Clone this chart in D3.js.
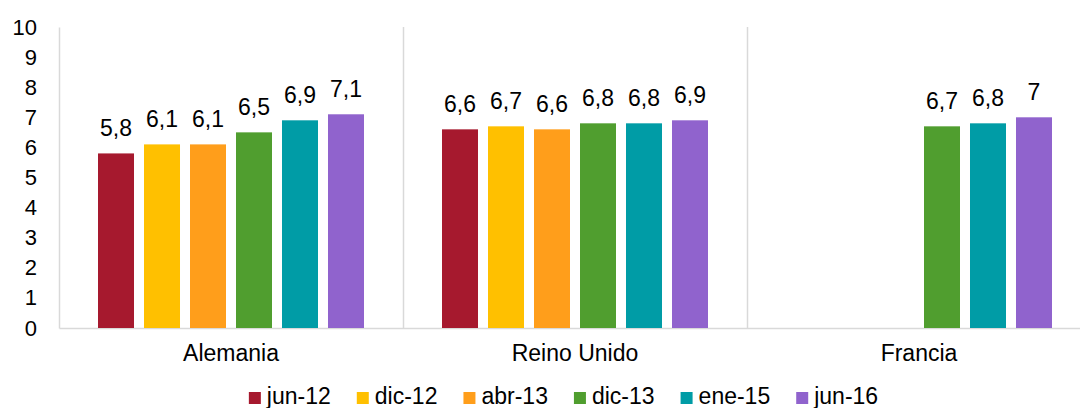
<!DOCTYPE html>
<html>
<head>
<meta charset="utf-8">
<script src="https://cdn.jsdelivr.net/npm/d3@7"></script>
<style>
  html, body { margin: 0; padding: 0; background: #fff; }
  svg { display: block; font-family: "Liberation Sans", Arial, sans-serif; }
</style>
</head>
<body>
<svg id="chart" width="1080" height="408"></svg>
<script>
// Countries on the x axis
const categories = ["Alemania", "Reino Unido", "Francia"];
// Survey dates (one bar per date inside each country)
const seriesNames = ["jun-12", "dic-12", "abr-13", "dic-13", "ene-15", "jun-16"];
const seriesColors = ["#A6192E", "#FFC000", "#FF9E1B", "#509E2F", "#009CA6", "#9063CD"];
// Scores per date, in the order of categories (null = no survey)
const jun12 = [5.8, 6.6, null];
const dic12 = [6.1, 6.7, null];
const abr13 = [6.1, 6.6, null];
const dic13 = [6.5, 6.8, 6.7];
const ene15 = [6.9, 6.8, 6.8];
const jun16 = [7.1, 6.9, 7.0];
const yTicks = [0, 1, 2, 3, 4, 5, 6, 7, 8, 9, 10];

const seriesValues = [jun12, dic12, abr13, dic13, ene15, jun16];

const svg = d3.select("#chart");
const margin = { left: 59, top: 27, right: -11, bottom: 80 };
const W = 1080, H = 408;
const plotRight = W - margin.right;
const plotBottom = H - margin.bottom;
const axisColor = "#d9d9d9";
const tickFont = 22;
const labelFont = 23;

const x0 = d3.scaleBand().domain(categories).range([margin.left, plotRight]).padding(0);
const x1 = d3.scaleBand().domain(seriesNames).range([0, x0.bandwidth()])
  .paddingInner(10 / 46).paddingOuter(0.848);
const y = d3.scaleLinear().domain([0, 10]).range([plotBottom, margin.top]);

const fmt = v => (Number.isInteger(v) ? String(v) : d3.format(".1f")(v).replace(".", ","));

// Category separators
svg.append("g").selectAll("line")
  .data(categories.slice(1))
  .join("line")
  .attr("x1", d => x0(d) + 0.5).attr("x2", d => x0(d) + 0.5)
  .attr("y1", margin.top).attr("y2", plotBottom)
  .attr("stroke", axisColor).attr("stroke-width", 1.5);

// Y axis
const yAxis = svg.append("g")
  .attr("transform", `translate(${margin.left},0)`)
  .call(d3.axisLeft(y).tickValues(yTicks).tickSize(0).tickPadding(22).tickFormat(d3.format("d")));
yAxis.select(".domain").attr("stroke", axisColor).attr("stroke-width", 1.5);
yAxis.selectAll("text").attr("font-size", tickFont).attr("fill", "#000")
  .attr("font-family", "Liberation Sans, Arial, sans-serif");

// X axis
const xAxis = svg.append("g")
  .attr("transform", `translate(0,${plotBottom})`)
  .call(d3.axisBottom(x0).tickSize(0).tickPadding(17));
xAxis.select(".domain").attr("stroke", axisColor).attr("stroke-width", 1.5);
xAxis.selectAll("text").attr("font-size", labelFont).attr("fill", "#000")
  .attr("font-family", "Liberation Sans, Arial, sans-serif");

// Bars and value labels
const rows = [];
seriesNames.forEach((s, si) => {
  categories.forEach((c, ci) => {
    const v = seriesValues[si][ci];
    if (v !== null) rows.push({ s, c, v, color: seriesColors[si] });
  });
});

const g = svg.append("g");
g.selectAll("rect").data(rows).join("rect")
  .attr("x", d => x0(d.c) + x1(d.s))
  .attr("width", x1.bandwidth())
  .attr("y", d => y(d.v))
  .attr("height", d => y(0) - y(d.v))
  .attr("fill", d => d.color);

g.selectAll("text").data(rows).join("text")
  .attr("x", d => x0(d.c) + x1(d.s) + x1.bandwidth() / 2)
  .attr("y", d => y(d.v) - 17)
  .attr("text-anchor", "middle")
  .attr("font-size", labelFont)
  .attr("fill", "#000")
  .text(d => fmt(d.v));

// Legend
const legend = svg.append("g").attr("transform", `translate(0,${H - 4})`);
const items = legend.selectAll("g").data(seriesNames).join("g");
items.append("rect").attr("y", -12).attr("width", 12).attr("height", 12)
  .attr("fill", (d, i) => seriesColors[i]);
items.append("text").attr("x", 18).attr("y", 0)
  .attr("font-size", labelFont).attr("fill", "#000").text(d => d);
let cx = 0;
const gap = 26;
items.each(function () {
  const wText = d3.select(this).select("text").node().getComputedTextLength();
  d3.select(this).attr("transform", `translate(${cx},0)`);
  cx += 18 + wText + gap;
});
const total = cx - gap;
const startX = 563.5 - total / 2;
legend.attr("transform", `translate(${startX},${H - 4})`);
</script>
</body>
</html>
